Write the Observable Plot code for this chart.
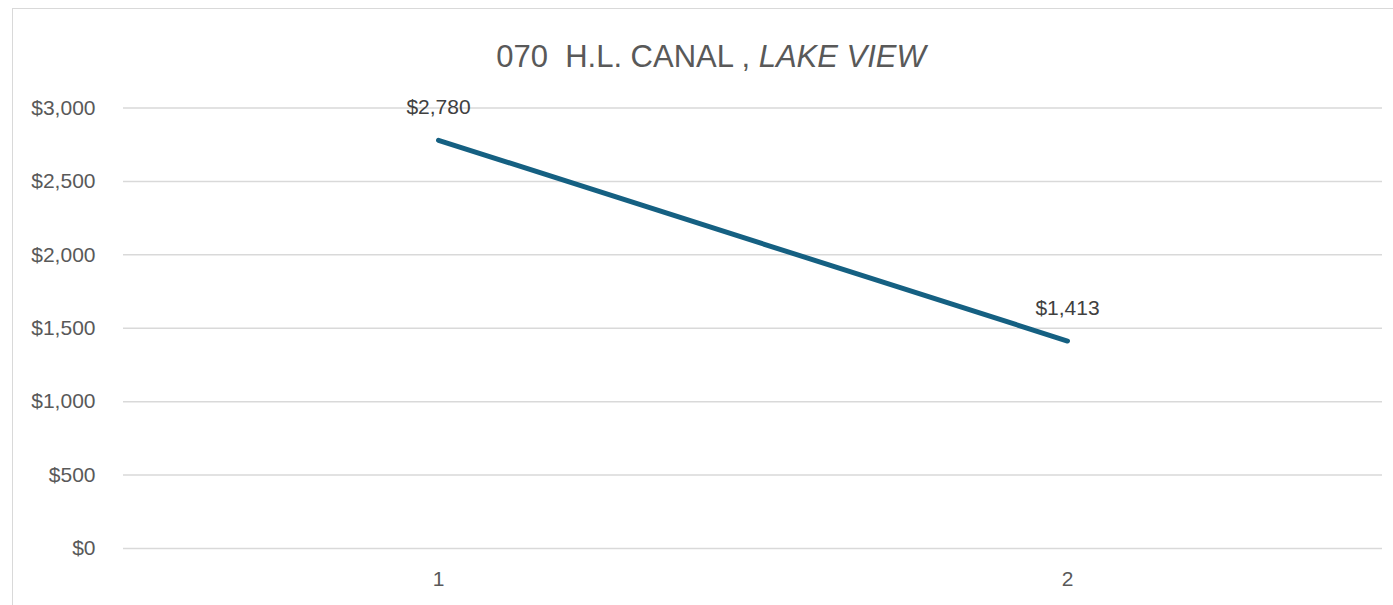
<!DOCTYPE html>
<html>
<head>
<meta charset="utf-8">
<script src="https://cdn.jsdelivr.net/npm/d3@7"></script>
<script src="https://cdn.jsdelivr.net/npm/@observablehq/plot@0.6"></script>
<style>
  html, body { margin: 0; padding: 0; background: #fff; }
  #wrap { position: relative; width: 1393px; height: 605px; overflow: hidden; }
  #frame { position: absolute; left: 12px; top: 8px; width: 1500px; height: 700px; border: 1.5px solid #d9d9d9; box-sizing: border-box; }
  #title { position: absolute; left: 0; width: 1422px; top: 41px; text-align: center; font-family: "Liberation Sans", Arial, sans-serif; font-size: 31px; color: #595959; white-space: pre; line-height: 1; }
  #chart { position: absolute; left: 0; top: 0; }
</style>
</head>
<body>
<div id="wrap">
  <div id="frame"></div>
  <div id="title">070  H.L. CANAL , <i>LAKE VIEW</i></div>
  <div id="chart"></div>
</div>
<script>
const categories = [1, 2];
const values = [2780, 1413];
const yTicks = [0, 500, 1000, 1500, 2000, 2500, 3000];

const data = categories.map((c, i) => ({ c, v: values[i] }));
const money = d3.format("$,");

const chart = Plot.plot({
  width: 1393,
  height: 605,
  marginLeft: 123,
  marginRight: 11,
  marginTop: 107.5,
  marginBottom: 57,
  style: { fontFamily: "'Liberation Sans', Arial, sans-serif", fontSize: "21px", color: "#595959", background: "transparent" },
  x: { type: "point", domain: categories, padding: 0.5, label: null },
  y: { domain: [0, 3000], label: null },
  marks: [
    Plot.ruleY(yTicks, { stroke: "#d9d9d9", strokeWidth: 1.5 }),
    Plot.axisY({ ticks: yTicks, tickFormat: money, tickSize: 0, tickPadding: 28, label: null, fontSize: 21, fill: "#595959" }),
    Plot.axisX({ tickSize: 0, tickPadding: 23, label: null, fontSize: 21, fill: "#595959" }),
    Plot.line(data, { x: "c", y: "v", stroke: "#156082", strokeWidth: 5, strokeLinecap: "round" }),
    Plot.text(data, { x: "c", y: "v", text: d => money(d.v), dy: -33, fontSize: 21, fill: "#404040" })
  ]
});
document.getElementById("chart").appendChild(chart);
</script>
</body>
</html>
